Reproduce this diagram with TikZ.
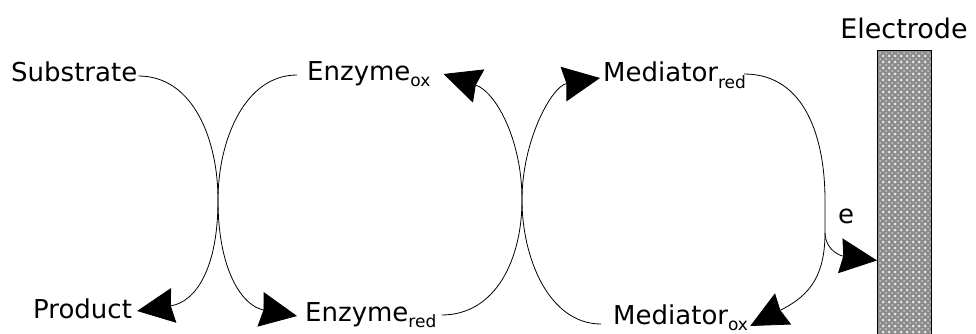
\documentclass[tikz,border=0pt]{standalone}
\usepackage{fontspec}
\setmainfont{DejaVu Sans}
\usetikzlibrary{arrows.meta}
\newcommand{\chemsub}[1]{\raisebox{-6pt}{\fontsize{17}{17}\selectfont #1}}
\definecolor{elecgray}{RGB}{140,140,140}
\definecolor{dotgray}{RGB}{230,230,230}
\begin{document}
\begin{tikzpicture}[x=1pt,y=-1pt,
  font=\fontsize{26}{30}\selectfont,
  lbl/.style={anchor=base west, inner sep=0pt, text height=18pt, text depth=6pt},
  conn/.style={line width=0.8pt},
  arr/.style={conn, -{Stealth[length=37pt,width=35pt,inset=3pt]}},
  electrodebox/.style={draw, line width=0.9pt, fill=elecgray,
    minimum width=54pt, minimum height=292pt, inner sep=0pt, anchor=north west}
]
\useasboundingbox (0,0) rectangle (976,334);

% labels
\node[lbl] (sub)    at (11,82)  {Substrate};
\node[lbl] (prod)   at (33,318) {Product};
\node[lbl] (enzox)  at (307,81) {Enzyme\chemsub{ox}};
\node[lbl] (enzred) at (305,321) {Enzyme\chemsub{red}};
\node[lbl] (medred) at (603,82) {Mediator\chemsub{red}};
\node[lbl] (medox)  at (613,324) {Mediator\chemsub{ox}};
\node[anchor=base, inner sep=0pt, font=\fontsize{27}{30}\selectfont] (elabel) at (904,39) {Electrode};
\node[electrodebox] (electrode) at (877,50) {};
\begin{scope}
  \clip (877.5,50.5) rectangle (930.5,340);
  \foreach \i in {0,...,9} {
    \foreach \j in {0,...,49} {
      \fill[dotgray] (877+6*\i,50+6*\j) circle (1.5pt);
      \fill[dotgray!70!elecgray] (880+6*\i,53+6*\j) circle (1.0pt);
    }
  }
\end{scope}
\draw[line width=0.9pt] (877,340) -- (877,50) -- (931,50) -- (931,340);
\node[inner sep=0pt] (elab) at (846,216) {e};

% enzyme / substrate crossing
\draw[arr] ([xshift=1pt]sub.east) .. controls +(55,0) and (218,140) .. (218,200)
  .. controls (218,268) and (196,302) .. ([xshift=5pt,yshift=1pt]prod.east);
\draw[arr] ([xshift=-10pt]enzox.west) .. controls +(-52,0) and (218,140) .. (218,200)
  .. controls (218,270) and (242,306) .. ([xshift=-8pt,yshift=-1pt]enzred.west);

% enzyme / mediator crossing
\draw[arr] ([xshift=5pt]enzred.east) .. controls +(55,0) and (522,258) .. (522,200)
  .. controls (522,140) and (496,92) .. ([xshift=13pt,yshift=1pt]enzox.east);
\draw[arr] ([xshift=-12pt,yshift=-6pt]medox.west) .. controls +(-52,0) and (522,258) .. (522,200)
  .. controls (522,140) and (552,86) .. ([xshift=-3pt,yshift=-2pt]medred.west);

% mediator / electrode
\draw[arr] ([xshift=-2pt,yshift=2pt]medred.east) .. controls +(62,0) and (825,140) .. (825,200)
  -- (825,233) coordinate (ebr)
  .. controls (825,282) and (804,298) .. ([xshift=2pt,yshift=-8pt]medox.east);
\draw[arr] (ebr) .. controls (826,252) and (842,256) .. ([yshift=-64pt]electrode.west);
\end{tikzpicture}
\end{document}
